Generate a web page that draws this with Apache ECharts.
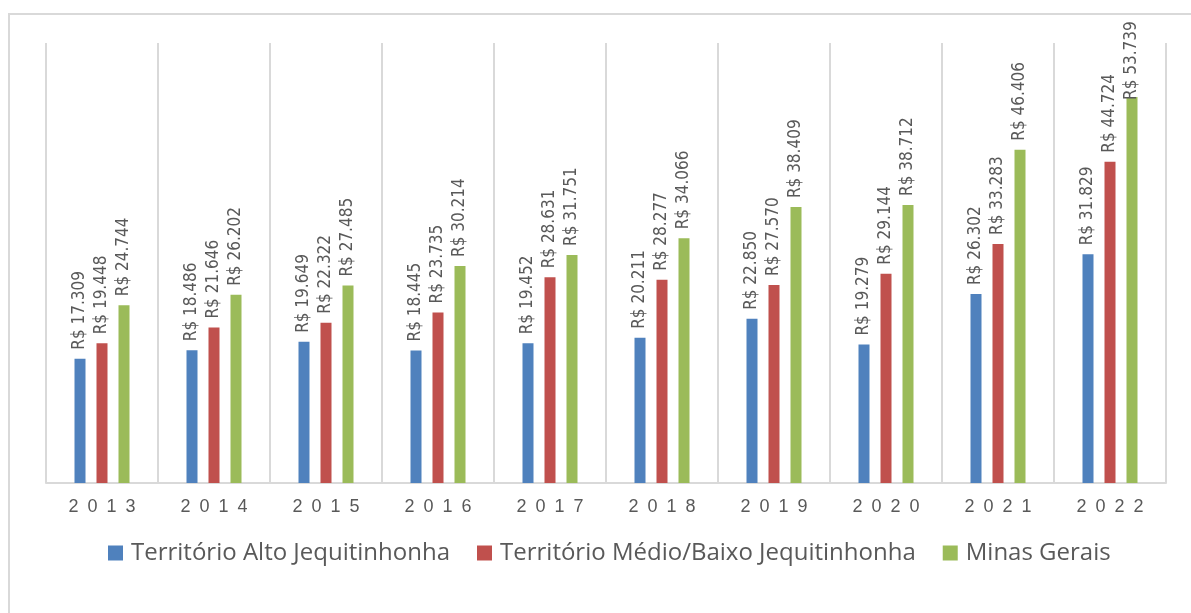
<!DOCTYPE html>
<html>
<head>
<meta charset="utf-8">
<script src="https://cdn.jsdelivr.net/npm/echarts@6/dist/echarts.min.js"></script>
<style>
  html, body { margin: 0; padding: 0; background: #fff; }
  #main { width: 1191px; height: 613px; }
</style>
</head>
<body>
<div id="main"></div>
<script>
// anos e valores (PIB per capita, R$)
var years = ['2013', '2014', '2015', '2016', '2017', '2018', '2019', '2020', '2021', '2022'];
var seriesNames = ['Território Alto Jequitinhonha', 'Território Médio/Baixo Jequitinhonha', 'Minas Gerais'];
var altoJeq = [17309, 18486, 19649, 18445, 19452, 20211, 22850, 19279, 26302, 31829];
var medioBaixoJeq = [19448, 21646, 22322, 23735, 28631, 28277, 27570, 29144, 33283, 44724];
var minasGerais = [24744, 26202, 27485, 30214, 31751, 34066, 38409, 38712, 46406, 53739];

var colors = ['#4F81BD', '#C0504D', '#9BBB59'];
var lblFont = "'DejaVu Sans Condensed', 'Liberation Sans Narrow', 'Liberation Sans', sans-serif";

function fmt(v) { // 17309 -> R$ 17.309
    var s = String(v);
    return 'R$ ' + s.slice(0, s.length - 3) + '.' + s.slice(s.length - 3);
}

function makeSeries(name, data, color) {
    return {
        name: name,
        type: 'bar',
        data: data,
        barWidth: 11,
        barGap: '100%',
        itemStyle: { color: color },
        label: {
            show: true,
            position: 'top',
            rotate: 90,
            align: 'left',
            verticalAlign: 'middle',
            distance: 9,
            color: '#595959',
            fontSize: 17,
            fontFamily: lblFont,
            formatter: function (p) { return fmt(p.value); }
        },
        labelLayout: function (p) { // rótulo que sairia do quadro desce sobre a barra
            var len = Math.max(p.labelRect.width, p.labelRect.height);
            if (p.rect.y - 9 - len < 18) {
                return { y: p.rect.y + 3 };
            }
            return {};
        }
    };
}

var chart = echarts.init(document.getElementById('main'));
var option = {
    animation: false,
    backgroundColor: '#fff',
    graphic: [{
        type: 'rect',
        shape: { x: 9, y: 14, width: 1300, height: 700 },
        style: { fill: 'none', stroke: '#d9d9d9', lineWidth: 2 },
        z: -1
    }],
    grid: { left: 46, right: 25, top: 43, bottom: 130 },
    legend: {
        left: 103,
        top: 536,
        itemWidth: 15,
        itemHeight: 15,
        itemGap: 27,
        icon: 'rect',
        textStyle: { color: '#595959', fontSize: 24, fontFamily: "'Open Sans', sans-serif", padding: [0, 0, 0, 3] },
        data: seriesNames
    },
    xAxis: {
        type: 'category',
        data: years,
        axisLine: { lineStyle: { color: '#d9d9d9', width: 2 } },
        axisTick: { show: false },
        splitLine: { show: true, lineStyle: { color: '#d9d9d9', width: 2 } },
        axisLabel: {
            color: '#595959',
            fontSize: 18,
            margin: 15,
            fontFamily: "'Liberation Sans', sans-serif",
            formatter: function (v) { return v.split('').join('\u2002'); }
        }
    },
    yAxis: {
        type: 'value',
        min: 0,
        max: 61250,
        show: false,
        splitLine: { show: false }
    },
    series: [
        makeSeries(seriesNames[0], altoJeq, colors[0]),
        makeSeries(seriesNames[1], medioBaixoJeq, colors[1]),
        makeSeries(seriesNames[2], minasGerais, colors[2])
    ]
};
chart.setOption(option);
</script>
</body>
</html>
